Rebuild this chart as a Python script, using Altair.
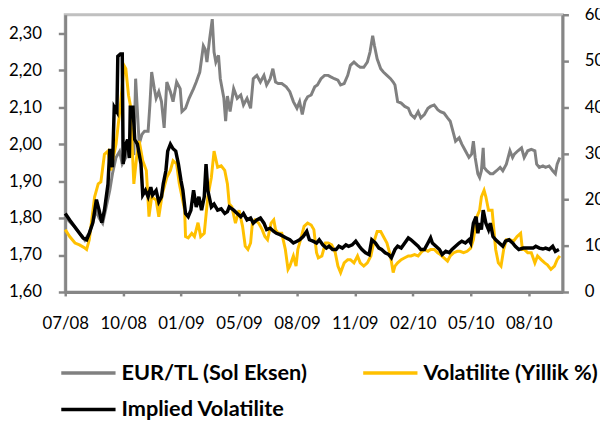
import json
import altair as alt
import pandas as pd

seriler = ["EUR/TL (Sol Eksen)", "Volatilite (Yillik %)", "Implied Volatilite"]
renkler = ["#808080", "#FFC000", "#000000"]

tick_gun = [0, 65, 130, 195, 260, 325, 390, 455, 520]
tick_etiket = ["07/08", "10/08", "01/09", "05/09", "08/09", "11/09", "02/10", "05/10", "08/10"]
sol_tick = [1.6, 1.7, 1.8, 1.9, 2.0, 2.1, 2.2, 2.3]
sag_tick = [0, 10, 20, 30, 40, 50, 60]

eur_gun = [0, 5, 11, 16, 22, 27, 31, 35, 38, 42, 46, 50, 53, 57, 61, 64, 68, 72, 75, 77,
           79, 81, 83, 86, 89, 93, 95, 97, 100, 102, 105, 108, 111, 114, 118, 121, 125, 129,
           131, 135, 139, 144, 147, 151, 155, 157, 159, 162, 165, 167, 169, 172, 174, 178,
           180, 182, 185, 189, 193, 197, 200, 204, 208, 211, 215, 219, 223, 226, 230, 233,
           236, 239, 243, 248, 252, 256, 260, 263, 266, 269, 272, 276, 280, 283, 287, 291,
           295, 298, 302, 306, 309, 313, 317, 320, 324, 328, 331, 335, 339, 342, 345, 347,
           350, 354, 357, 361, 365, 368, 370, 373, 377, 381, 385, 388, 392, 396, 399, 403,
           407, 410, 414, 418, 421, 425, 429, 432, 435, 438, 442, 445, 449, 453, 456, 458,
           460, 463, 465, 467, 469, 470, 473, 477, 480, 484, 488, 491, 495, 499, 502, 504,
           508, 512, 515, 519, 523, 527, 529, 532, 536, 539, 543, 547, 550, 552, 555]
eur_kur = [1.804, 1.79, 1.775, 1.76, 1.74, 1.76, 1.79, 1.82, 1.80, 1.786, 1.83, 1.875, 1.92,
           1.964, 1.98, 1.946, 1.964, 2.008, 2.044, 1.97, 2.177, 2.088, 2.00, 2.026, 2.035,
           2.035, 2.106, 2.195, 2.15, 2.124, 2.142, 2.115, 2.044, 2.168, 2.142, 2.115, 2.168,
           2.15, 2.088, 2.097, 2.124, 2.15, 2.168, 2.195, 2.266, 2.257, 2.222, 2.284, 2.338,
           2.249, 2.222, 2.24, 2.177, 2.124, 2.062, 2.13, 2.088, 2.15, 2.124, 2.133, 2.106,
           2.124, 2.097, 2.177, 2.186, 2.168, 2.186, 2.16, 2.177, 2.204, 2.168, 2.164, 2.164,
           2.155, 2.142, 2.115, 2.097, 2.115, 2.08, 2.115, 2.128, 2.133, 2.155, 2.16, 2.177,
           2.186, 2.186, 2.182, 2.177, 2.173, 2.16, 2.164, 2.186, 2.213, 2.222, 2.213, 2.208,
           2.208, 2.222, 2.249, 2.293, 2.266, 2.231, 2.204, 2.195, 2.186, 2.177, 2.168, 2.16,
           2.115, 2.111, 2.102, 2.097, 2.08, 2.071, 2.088, 2.071, 2.08, 2.097, 2.102, 2.106,
           2.093, 2.088, 2.084, 2.071, 2.062, 2.035, 2.008, 2.017, 2.00, 1.982, 1.964, 1.973,
           2.008, 1.964, 1.92, 1.91, 1.928, 1.99, 1.937, 1.928, 1.92, 1.92, 1.928, 1.937,
           1.928, 1.946, 1.982, 1.964, 1.973, 1.982, 1.99, 1.964, 1.982, 1.986, 1.982, 1.946,
           1.937, 1.941, 1.937, 1.941, 1.928, 1.92, 1.946, 1.964]

vol_gun = [0, 5, 11, 16, 22, 24, 27, 33, 37, 40, 44, 48, 51, 57, 62, 66, 68, 71, 73, 75, 77,
           80, 83, 87, 91, 94, 97, 102, 105, 109, 114, 118, 121, 125, 128, 131, 134, 135, 138,
           142, 145, 149, 152, 156, 160, 164, 167, 171, 175, 179, 182, 184, 187, 191, 195, 199,
           202, 205, 208, 210, 213, 217, 221, 224, 227, 231, 234, 236, 239, 243, 247, 250, 252,
           256, 259, 261, 265, 268, 272, 276, 279, 282, 284, 288, 292, 295, 299, 303, 306, 309,
           313, 317, 320, 324, 328, 331, 335, 339, 343, 346, 350, 354, 357, 361, 365, 368, 370,
           373, 377, 381, 385, 388, 392, 396, 399, 403, 407, 410, 414, 418, 421, 425, 429, 432,
           436, 440, 443, 447, 451, 455, 458, 462, 465, 467, 470, 472, 475, 479, 481, 483, 486,
           489, 492, 495, 499, 503, 507, 511, 513, 515, 519, 523, 527, 530, 534, 538, 541, 545,
           549, 552, 555]
vol_deger = [13.5, 12, 10.6, 10.2, 9.5, 9.2, 11.3, 20.6, 23.4, 23.8, 29.8, 30.5, 26.3, 32,
             40.5, 49, 48.3, 42.6, 40.5, 32, 23.4, 29, 32.7, 28.4, 26.3, 16.3, 20.6, 19.9, 16.3,
             21.3, 24.8, 26.3, 28.4, 27.7, 23.4, 20.6, 17.7, 12, 11.7, 12.7, 12, 15, 12, 12.7,
             20.6, 24.8, 30.5, 27, 27.3, 26.3, 23.4, 19.1, 18.4, 14.9, 17.7, 14.2, 9.9, 9.2,
             10.6, 14.9, 15.6, 14.9, 13.5, 12, 11.3, 14.9, 15.6, 13.5, 12.7, 12.7, 9.2, 4.9,
             5.6, 7.8, 5.6, 9.2, 12, 14.2, 14.9, 14.5, 13.5, 8.5, 7.4, 7.8, 10.6, 10.6, 10.2,
             8.5, 5.6, 4.2, 6.3, 7, 7, 6.3, 7.8, 6.3, 5.6, 6.3, 7.8, 10.6, 13.1, 13.1, 12, 10.6,
             7.8, 4.2, 5.6, 6.3, 7, 7.4, 7.8, 7.8, 8.1, 7.8, 8.5, 9.2, 8.8, 9.2, 9.2, 8.5, 8.1,
             7.4, 6.7, 7.8, 8.5, 8.8, 8.8, 8.5, 8.8, 9.5, 11.3, 16.3, 17.7, 20.6, 22, 20.6,
             17.7, 17.7, 13.5, 9.2, 6.3, 5.6, 9.2, 11.3, 11.3, 11, 12, 12.7, 9.2, 9.2, 8.5, 8.5,
             6.3, 7.8, 7, 6.3, 5.9, 4.9, 5.6, 7, 7.8]

iv_gun = [0, 5, 11, 16, 20, 24, 27, 31, 35, 38, 41, 44, 48, 50, 53, 55, 58, 59, 62, 64, 65,
          68, 70, 72, 73, 76, 78, 81, 85, 87, 90, 93, 96, 98, 102, 105, 108, 110, 113, 115, 118,
          121, 124, 127, 130, 132, 135, 138, 141, 144, 147, 150, 153, 156, 158, 160, 164, 167,
          171, 175, 179, 182, 184, 189, 193, 197, 200, 204, 208, 211, 215, 219, 223, 226, 230,
          234, 237, 241, 245, 248, 252, 256, 260, 263, 267, 271, 274, 278, 282, 285, 289, 293,
          296, 300, 304, 307, 311, 315, 318, 322, 326, 330, 333, 337, 341, 344, 348, 352, 355,
          359, 363, 366, 370, 373, 377, 381, 385, 388, 392, 396, 399, 403, 407, 410, 412, 416,
          420, 423, 427, 431, 434, 438, 442, 445, 449, 453, 455, 458, 461, 463, 465, 467, 469,
          472, 475, 477, 480, 483, 487, 491, 494, 498, 502, 505, 509, 514, 517, 521, 525, 528,
          532, 536, 539, 543, 547, 550, 554]
iv_deger = [17, 15.6, 14, 12.7, 11.7, 11.3, 12.7, 15, 20, 17.7, 15, 17.7, 23.4, 31, 27, 40,
            39, 51, 51.5, 51.5, 27.7, 32, 33, 29, 40, 40, 33, 32, 27.7, 21, 22, 20.6, 22.7, 21,
            22, 19.5, 20.6, 23.4, 26.3, 30.5, 32, 31, 30.5, 27.7, 24, 22, 17, 16.3, 17.7, 22,
            18.4, 20.6, 17.7, 20.6, 27.7, 22, 18.4, 19, 17.7, 18, 17, 17.4, 18.4, 17.7, 17,
            16.3, 17, 15.6, 16, 14.9, 15.6, 16, 14.9, 13.5, 13.8, 13.1, 12.7, 12.4, 12, 11.7,
            11.3, 10.6, 11, 11.3, 12, 13.1, 11.3, 11, 10.6, 11.3, 10.2, 9.5, 9.9, 9.2, 9.2, 9.9,
            9.5, 10.2, 9.9, 10.2, 11, 9.9, 9.2, 8.5, 8.1, 11.3, 10.6, 9.5, 9.2, 8.5, 8.1, 7.4,
            9.2, 9.9, 9.5, 10.6, 11.7, 11.3, 10.6, 9.9, 9.2, 9.2, 10.6, 11.7, 10.6, 9.9, 9.2,
            8.1, 8.8, 8.5, 9.2, 9.9, 10.6, 11, 10.6, 11.3, 10.6, 14.9, 16.3, 12.7, 14.9, 13.5,
            17.7, 14.9, 13.5, 14.9, 12, 11.3, 10.6, 9.9, 11, 11.3, 10.6, 9.9, 9.2, 9.5, 9.5,
            9.5, 9.5, 9.9, 9.5, 9.3, 9.5, 9.2, 9.9, 8.8, 9.2]

df_eur = pd.DataFrame({"gun": eur_gun, "kur": eur_kur, "seri": seriler[0]})
df_vol = pd.DataFrame({"gun": vol_gun, "deger": vol_deger, "seri": seriler[1]})
df_iv = pd.DataFrame({"gun": iv_gun, "deger": iv_deger, "seri": seriler[2]})

eksen_renk = "#868686"
etiket_dizi = "[" + ",".join("'" + t + "'" for t in tick_etiket) + "]"
x_expr = etiket_dizi + "[indexof(" + json.dumps(tick_gun) + ", datum.value)]"

x_enc = alt.X(
    "gun:Q",
    scale=alt.Scale(domain=[0, 558], nice=False, zero=False),
    axis=alt.Axis(values=tick_gun, labelExpr=x_expr, title=None, grid=False,
                  domainColor=eksen_renk, domainWidth=3, tickColor=eksen_renk,
                  tickWidth=2.5, tickSize=4, labelPadding=20, labelFontSize=17,
                  labelColor="#000000", labelFont="Lato", labelFlush=False),
)

renk = alt.Color(
    "seri:N",
    sort=seriler,
    scale=alt.Scale(domain=seriler, range=renkler),
    legend=alt.Legend(title=None, orient="none", direction="horizontal",
                      legendX=-6, legendY=350, columns=2, values=seriler,
                      symbolType="stroke", symbolSize=3025, symbolStrokeWidth=3.5,
                      labelFont="Lato", labelFontWeight="bold", labelFontSize=22,
                      labelColor="#000000", labelOffset=4, labelLimit=400,
                      columnPadding=54, rowPadding=11, clipHeight=26),
)

sol = alt.Chart(df_eur).mark_line(strokeWidth=3).encode(
    x=x_enc,
    y=alt.Y("kur:Q",
            scale=alt.Scale(domain=[1.6, 2.35], nice=False, zero=False),
            axis=alt.Axis(orient="left", values=sol_tick, title=None, grid=False,
                          labelExpr="replace(format(datum.value, '.2f'), '.', ',')",
                          domainColor=eksen_renk, domainWidth=3, tickColor=eksen_renk,
                          tickWidth=2.5, tickSize=7, labelPadding=17, labelFontSize=17,
                          labelColor="#000000", labelFont="Lato", minExtent=58)),
    color=renk,
)

y_sag = alt.Y("deger:Q",
              scale=alt.Scale(domain=[0, 60], nice=False),
              axis=alt.Axis(orient="right", values=sag_tick, title=None, grid=False,
                            domainColor=eksen_renk, domainWidth=3, tickColor=eksen_renk,
                            tickWidth=2.5, tickSize=6, labelPadding=16, labelFontSize=17,
                            labelColor="#000000", labelFont="Lato"))

sari = alt.Chart(df_vol).mark_line(strokeWidth=3).encode(x=x_enc, y=y_sag, color=renk)
siyah = alt.Chart(df_iv).mark_line(strokeWidth=3.5).encode(x=x_enc, y=y_sag, color=renk)

sag = alt.layer(sari, siyah)

chart = (
    alt.layer(sol, sag)
    .resolve_scale(y="independent")
    .properties(width=504, height=281, autosize="none",
                padding={"left": 58, "top": 4, "right": 38, "bottom": 134})
    .configure(font="Lato")
    .configure_view(stroke="#c0c0c0", strokeWidth=3)
)

chart.save("out.html", embed_options={"renderer": "svg", "actions": False})
